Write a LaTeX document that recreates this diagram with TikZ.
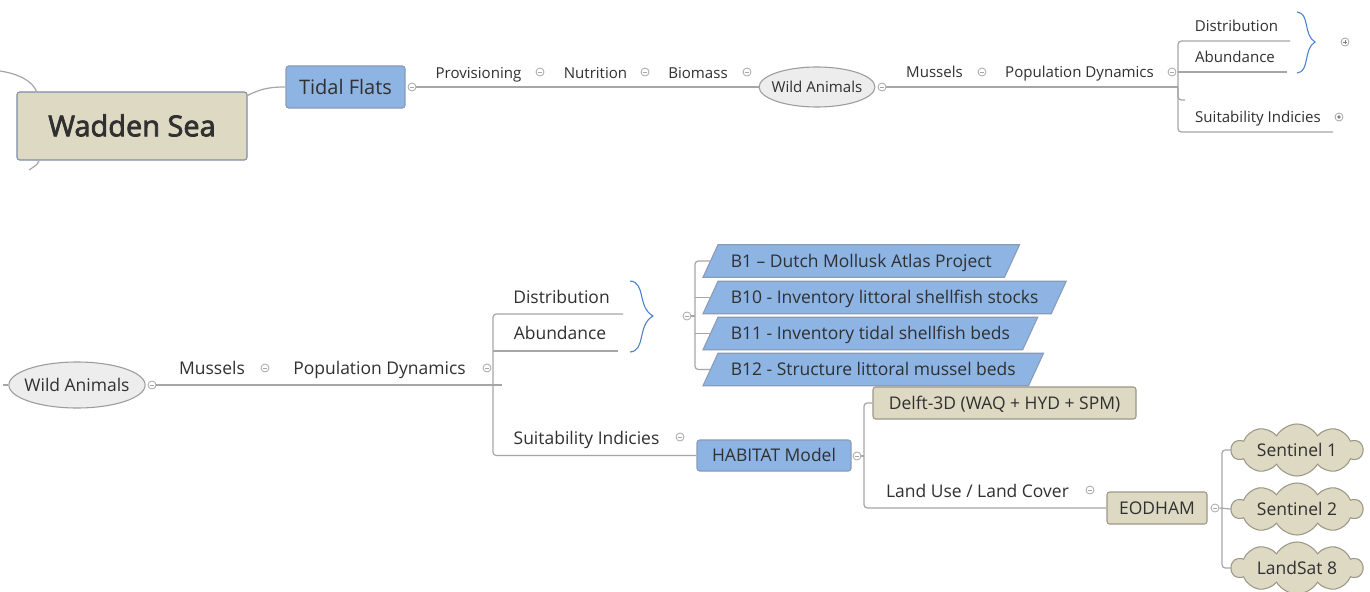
\documentclass[tikz,border=0pt]{standalone}
\usepackage{fontspec}
\setmainfont{Open Sans}
\newfontfamily\rootfont[FakeBold=2.5]{Open Sans}
\usetikzlibrary{shapes.geometric,shapes.symbols,backgrounds}

\definecolor{ink}{HTML}{303030}
\definecolor{wire}{HTML}{A6A6A6}
\definecolor{tan}{HTML}{DDD9C3}
\definecolor{tanedge}{HTML}{9C9886}
\definecolor{sky}{HTML}{8DB4E2}
\definecolor{skyedge}{HTML}{8A9BB5}
\definecolor{oval}{HTML}{EDEDED}
\definecolor{ovaledge}{HTML}{9C9C9C}
\definecolor{bracecol}{HTML}{4A7FD0}
\definecolor{rootedge}{HTML}{7D8DA8}

\newcommand\mmsmall{\fontsize{11.3pt}{13.5pt}\selectfont}
\newcommand\mmnorm{\fontsize{13.1pt}{15.7pt}\selectfont}

\tikzset{
  every node/.style={text=ink, font=\mmnorm},
  conn/.style={draw=wire, line width=0.9pt},
  elbow/.style={conn, rounded corners=2.5pt},
  lbl/.style={inner sep=0pt, anchor=base},
  lblsmall/.style={lbl, font=\mmsmall},
  capnorm/.style={text height=9.35pt, text depth=0pt},
  capsmall/.style={font=\mmsmall, text height=8.07pt, text depth=0pt},
  tanbox/.style={draw=tanedge, fill=tan, rounded corners=2pt, line width=0.8pt, inner sep=0pt, capnorm},
  skybox/.style={draw=skyedge, fill=sky, rounded corners=2pt, line width=0.8pt, inner sep=0pt, capnorm},
  ovalnode/.style={ellipse, draw=ovaledge, fill=oval, line width=0.8pt, inner xsep=-3.3pt, inner ysep=0pt},
  cloudnode/.style={cloud, cloud puffs=10, cloud puff arc=120, cloud ignores aspect,
    draw=tanedge, fill=tan, line width=0.8pt, inner sep=0pt, capnorm,
    minimum width=98.25pt, minimum height=39pt},
  paranode/.style={inner xsep=15pt, inner ysep=0pt, minimum height=24pt, anchor=west, capnorm},
  paraedge/.style={draw=skyedge, fill=sky, line width=0.8pt},
  knob/.style={circle, draw=wire, fill=white, line width=0.6pt, minimum size=6pt, inner sep=0pt},
  minusknob/.style={knob, path picture={\draw[wire, line width=0.6pt]
      ([xshift=-1.6pt]path picture bounding box.center) -- ([xshift=1.6pt]path picture bounding box.center);}},
  plusknob/.style={knob, path picture={\draw[gray, line width=0.6pt]
      ([xshift=-1.6pt]path picture bounding box.center) -- ([xshift=1.6pt]path picture bounding box.center)
      ([yshift=-1.6pt]path picture bounding box.center) -- ([yshift=1.6pt]path picture bounding box.center);}},
  dotknob/.style={knob, path picture={\fill[gray] (path picture bounding box.center) circle (1.4pt);}},
  bracket/.style={draw=bracecol, line width=0.8pt},
}

\begin{document}
\begin{tikzpicture}[x=0.75pt, y=-0.75pt]
\begin{scope}[on background layer]
  \fill[white] (0,0) rectangle (1370,592);
\end{scope}
\useasboundingbox (0,0) rectangle (1370,592);

% ---------------- upper map: Wadden Sea branch ----------------
\node[tanbox, draw=rootedge, minimum width=172.5pt, minimum height=51pt,
      font=\rootfont\fontsize{21.7pt}{26pt}\selectfont, text height=15.5pt] (ws) at (132,126) {Wadden Sea};
\node[skybox, minimum width=89.25pt, minimum height=31.5pt,
      font=\fontsize{15pt}{18pt}\selectfont, text height=10.7pt] (tf) at (345.5,87) {Tidal Flats};
\node[minusknob] (tfc) at (412,87) {};

\coordinate (offA) at (0,71);
\coordinate (offB) at (29,170);
\draw[conn] (offA) .. controls (20,74) and (33,82) .. ([xshift=15pt]ws.north west);
\draw[conn] ([xshift=17pt]ws.south west) .. controls (38,164) .. (offB);
\draw[conn] ([yshift=-3pt]ws.north east) .. controls (262,88) and (272,87) .. (tf.west);

\node[lblsmall] (prov) at (478.5,78.3) {Provisioning};
\node[minusknob] (kprov) at (540,72) {};
\node[lblsmall] (nutr) at (595.5,78.3) {Nutrition};
\node[minusknob] (knut) at (645,72) {};
\node[lblsmall] (bio) at (698,78.3) {Biomass};
\node[minusknob] (kbio) at (747,72) {};

\node[ovalnode, capsmall, minimum height=30pt] (wa1) at (817,87) {Wild Animals};
\node[minusknob] (wac1) at (882,87) {};
\draw[conn] (tfc.east) -- (wa1.west);

\node[lblsmall] (mus1) at (934.5,77.3) {Mussels};
\node[minusknob] (kmus1) at (982,72) {};
\node[lblsmall] (pop1) at (1079.5,77.3) {Population Dynamics};
\node[minusknob] (kpop1) at (1172,72) {};

\node[lblsmall] (dist1) at (1236.5,31.7) {Distribution};
\node[lblsmall] (abun1) at (1235,62.7) {Abundance};
\node[lblsmall] (suit1) at (1258,122.7) {Suitability Indicies};
\node[plusknob] (kplus) at (1345,42) {};
\node[dotknob] (kdot) at (1339,117) {};

\coordinate (j1) at (1178,87);
\coordinate (d1e) at (1290,41);
\coordinate (a1e) at (1287,72);
\coordinate (st1) at (1185,100);
\coordinate (s1e) at (1333,132);
\draw[conn] (wac1.east) -- (j1);
\draw[elbow] (d1e) -| (j1) |- (s1e);
\draw[conn] (a1e) -- (a1e -| j1);
\draw[elbow] (st1) -| (j1);

% curly brace grouping Distribution and Abundance
\draw[bracket] (1297,12) .. controls (1310,13) and (1303,35) .. (1315,42)
               .. controls (1303,49) and (1310,72) .. (1297,73);

% ---------------- lower map: Wild Animals branch ----------------
\node[ovalnode, capnorm, minimum height=34.5pt] (wa2) at (77,385) {Wild Animals};
\node[minusknob] (wac2) at (152,385) {};
\coordinate (offC) at (3,385);
\draw[conn] (offC) -- (wa2.west);

\node[lbl] (mus2) at (212,374.3) {Mussels};
\node[minusknob] (kmus2) at (265,368) {};
\node[lbl] (pop2) at (379.5,374) {Population Dynamics};
\node[minusknob] (kpop2) at (487,368) {};

\node[lbl] (dist2) at (561.5,303.3) {Distribution};
\node[lbl] (abun2) at (560,339.3) {Abundance};
\node[lbl] (suit2) at (586.5,444) {Suitability Indicies};
\node[minusknob] (ksuit2) at (680,437) {};

\node[skybox, minimum width=115.5pt, minimum height=23.25pt] (hab) at (774,455.5) {HABITAT Model};
\node[minusknob] (habc) at (857,456) {};

\coordinate (j2) at (493,385);
\coordinate (d2e) at (623,314);
\coordinate (a2e) at (618,351);
\coordinate (m2e) at (502,385);
\draw[conn] (wac2.east) -- (m2e);
\draw[elbow] (d2e) -| (j2) |- (hab.west);
\draw[conn] (a2e) -- (a2e -| j2);

% curly brace grouping Distribution and Abundance
\draw[bracket] (630,281) .. controls (646,282) and (637,307) .. (653,316)
               .. controls (637,325) and (646,351) .. (630,352);
\node[minusknob] (kbr) at (687,316) {};

% data sets
\node[paranode] (b1)  at (710.5,261)   {B1 – Dutch Mollusk Atlas Project};
\node[paranode] (b10) at (710.5,297.5) {B10 - Inventory littoral shellfish stocks};
\node[paranode] (b11) at (710.5,333.5) {B11 - Inventory tidal shellfish beds};
\node[paranode] (b12) at (710.5,369.5) {B12 - Structure littoral mussel beds};
\begin{scope}[on background layer]
  \foreach \b in {b1,b10,b11,b12}
    \filldraw[paraedge] ([xshift=5.625pt]\b.north west) -- ([xshift=5.625pt]\b.north east)
      -- ([xshift=-5.625pt]\b.south east) -- ([xshift=-5.625pt]\b.south west) -- cycle;
\end{scope}

\coordinate (jb) at (695,316);
\draw[conn] (kbr.east) -- (jb);
\draw[elbow] (b1.west) -| (jb) |- (b12.west);
\draw[conn] (b10.west) -- (b10.west -| jb);
\draw[conn] (b11.west) -- (b11.west -| jb);

% models
\node[tanbox, minimum width=197.25pt, minimum height=24pt] (delft) at (1004.5,403) {Delft-3D (WAQ + HYD + SPM)};
\node[lbl] (luse) at (977.5,497.3) {Land Use / Land Cover};
\node[minusknob] (kland) at (1090,490) {};
\node[tanbox, minimum width=75pt, minimum height=24pt] (eod) at (1157,508) {EODHAM};
\node[minusknob] (eodc) at (1215,508) {};

\coordinate (jh) at (864,456);
\draw[conn] (habc.east) -- (jh);
\draw[elbow] (delft.west) -| (jh) |- (eod.west);

% satellites
\node[cloudnode] (s1) at (1297,450) {Sentinel 1};
\node[cloudnode] (s2) at (1297,509) {Sentinel 2};
\node[cloudnode] (l8) at (1297,568) {LandSat 8};

\coordinate (je) at (1222,508);
\draw[conn] (eodc.east) -- (s2.west);
\draw[elbow] (s1.west) -| (je) |- (l8.west);
\end{tikzpicture}
\end{document}
